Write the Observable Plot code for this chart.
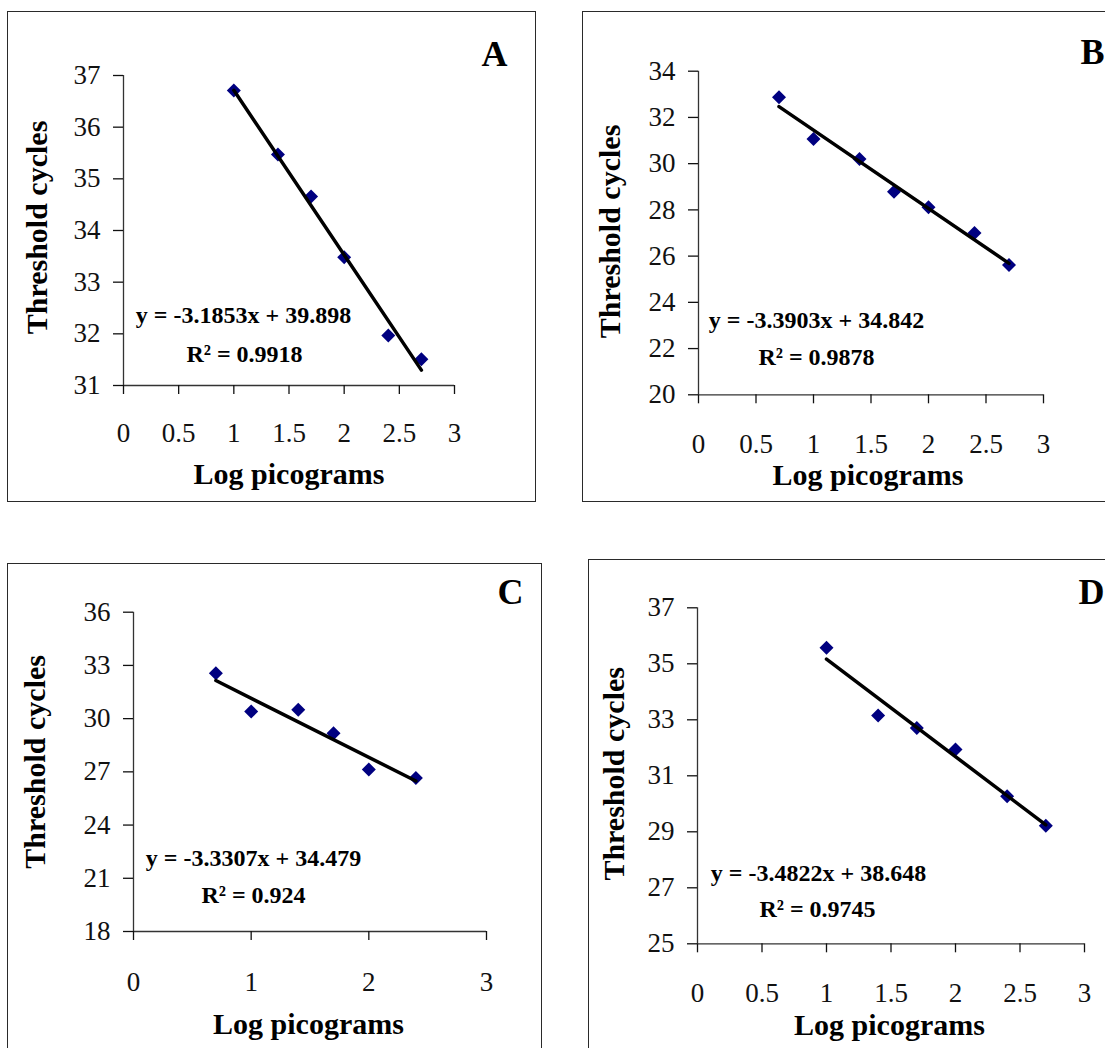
<!DOCTYPE html>
<html><head><meta charset="utf-8">
<script src="https://cdn.jsdelivr.net/npm/d3@7"></script>
<script src="https://cdn.jsdelivr.net/npm/@observablehq/plot@0.6"></script>
<style>
body{margin:0;background:#fff;}
#root{position:relative;width:1105px;height:1048px;overflow:hidden;background:#fff;}
.box{position:absolute;border:1.5px solid #2a2a2a;box-sizing:border-box;}
.panel{position:absolute;}
</style></head><body><div id="root"></div>
<script>
// ---------- data ----------
const xLabel = "Log picograms";
const yLabel = "Threshold cycles";
const letters = ["A", "B", "C", "D"];

const logPgA = [1, 1.4, 1.7, 2, 2.4, 2.7];
const ctA    = [36.71, 35.47, 34.66, 33.48, 31.97, 31.51];
const logPgB = [0.7, 1, 1.4, 1.7, 2, 2.4, 2.7];
const ctB    = [32.87, 31.07, 30.20, 28.79, 28.11, 27.00, 25.62];
const logPgC = [0.7, 1, 1.4, 1.7, 2, 2.4];
const ctC    = [32.56, 30.40, 30.50, 29.18, 27.13, 26.66];
const logPgD = [1, 1.4, 1.7, 2, 2.4, 2.7];
const ctD    = [35.57, 33.15, 32.71, 31.94, 30.27, 29.22];

const slopes     = [-3.1853, -3.3903, -3.3307, -3.4822];
const intercepts = [39.898, 34.842, 34.479, 38.648];
const eqTexts = ["y = -3.1853x + 39.898", "y = -3.3903x + 34.842", "y = -3.3307x + 34.479", "y = -3.4822x + 38.648"];
const r2Texts = ["R² = 0.9918", "R² = 0.9878", "R² = 0.924", "R² = 0.9745"];

const yTicksA = [31, 32, 33, 34, 35, 36, 37];
const yTicksB = [20, 22, 24, 26, 28, 30, 32, 34];
const yTicksC = [18, 21, 24, 27, 30, 33, 36];
const yTicksD = [25, 27, 29, 31, 33, 35, 37];
const xTicksHalf = [0, 0.5, 1, 1.5, 2, 2.5, 3];
const xTicksWhole = [0, 1, 2, 3];

// ---------- layout ----------
const layouts = [
  {box:[7,11,536,502],  frame:[123,454,75,385],     xPad:28, letter:[40,-10], eq:[120,-63], r2:[121,-24], xt:[0,98],   yt:[-77,-3]},
  {box:[582,11,1125,502], frame:[698,1043,70.7,394.3], xPad:30, letter:[49,-7.7], eq:[118,-67], r2:[118,-30], xt:[-3,90],  yt:[-79,-1.5]},
  {box:[7,563,542,1070], frame:[133,486,611.7,931],  xPad:31.5, letter:[24,-8.7], eq:[120,-66], r2:[120,-29], xt:[-1.5,102], yt:[-89,-10]},
  {box:[588,559,1125,1070], frame:[697,1084,607.3,943.3], xPad:30, letter:[7,-4.3], eq:[121,-63], r2:[120,-27], xt:[-1.5,91], yt:[-74,-2]}
];
const series = [
  {x: logPgA, y: ctA, yDomain: [31, 37], yTicks: yTicksA, xTicks: xTicksHalf},
  {x: logPgB, y: ctB, yDomain: [20, 34], yTicks: yTicksB, xTicks: xTicksHalf},
  {x: logPgC, y: ctC, yDomain: [18, 36], yTicks: yTicksC, xTicks: xTicksWhole},
  {x: logPgD, y: ctD, yDomain: [25, 37], yTicks: yTicksD, xTicks: xTicksHalf}
];

const serif = "'Liberation Serif','Times New Roman',Times,serif";
const diamond = {
  draw(ctx, size) {
    const r = Math.sqrt(size / Math.PI);
    ctx.moveTo(0, -r); ctx.lineTo(r, 0); ctx.lineTo(0, r); ctx.lineTo(-r, 0); ctx.closePath();
  }
};

const root = document.getElementById("root");

series.forEach((s, k) => {
  const L = layouts[k];
  const [bx0, by0, bx1, by1] = L.box;
  const [fl, fr, ft, fb] = L.frame;
  const box = document.createElement("div");
  box.className = "box";
  Object.assign(box.style, {left: bx0 + "px", top: by0 + "px", width: (bx1 - bx0) + "px", height: (by1 - by0) + "px"});
  root.appendChild(box);

  const W = Math.min(bx1, 1105) - bx0;
  const H = Math.min(by1, 1048) - by0;
  const pts = s.x.map((x, i) => ({x, y: s.y[i]}));
  const ends = [s.x[0], s.x[s.x.length - 1]];
  const fit = ends.map(x => ({x, y: slopes[k] * x + intercepts[k]}));
  const xDomain = [s.xTicks[0], s.xTicks[s.xTicks.length - 1]];

  const bold = {fontFamily: serif, fontWeight: "bold", fill: "#000", textAnchor: "middle", lineAnchor: "bottom"};

  const chart = Plot.plot({
    width: W, height: H,
    marginLeft: fl - bx0, marginRight: bx0 + W - fr,
    marginTop: ft - by0, marginBottom: by0 + H - fb,
    x: {domain: xDomain, axis: null},
    y: {domain: s.yDomain, axis: null},
    style: {background: "transparent", overflow: "visible"},
    marks: [
      Plot.ruleX([xDomain[0]], {stroke: "#333", strokeWidth: 1.3}),
      Plot.ruleY([s.yDomain[0]], {stroke: "#333", strokeWidth: 1.3}),
      Plot.axisY({ticks: s.yTicks, tickSize: 10, tickPadding: 13, fontSize: 27, fontFamily: serif,
                  tickFormat: d => String(d), label: null, color: "#111", strokeWidth: 1.3}),
      Plot.axisX({ticks: s.xTicks, tickSize: 9, tickPadding: L.xPad, fontSize: 27, fontFamily: serif,
                  tickFormat: d => String(d), label: null, color: "#111", strokeWidth: 1.3}),
      Plot.dot(pts, {x: "x", y: "y", symbol: diamond, r: 7, fill: "#000080", stroke: "none"}),
      Plot.line(fit, {x: "x", y: "y", stroke: "#000", strokeWidth: 3.5}),
      Plot.text([letters[k]], {...bold, text: d => d, frameAnchor: "top-right", dx: L.letter[0], dy: L.letter[1], fontSize: 36}),
      Plot.text([eqTexts[k]], {...bold, text: d => d, frameAnchor: "bottom-left", dx: L.eq[0], dy: L.eq[1], fontSize: 24}),
      Plot.text([r2Texts[k]], {...bold, text: d => d, frameAnchor: "bottom-left", dx: L.r2[0], dy: L.r2[1], fontSize: 24}),
      Plot.text([xLabel], {...bold, text: d => d, frameAnchor: "bottom", dx: L.xt[0], dy: L.xt[1], fontSize: 30}),
      Plot.text([yLabel], {...bold, text: d => d, frameAnchor: "left", rotate: -90, dx: L.yt[0], dy: L.yt[1], fontSize: 30})
    ]
  });
  chart.classList.add("panel");
  Object.assign(chart.style, {left: bx0 + "px", top: by0 + "px"});
  root.appendChild(chart);
});
</script></body></html>
